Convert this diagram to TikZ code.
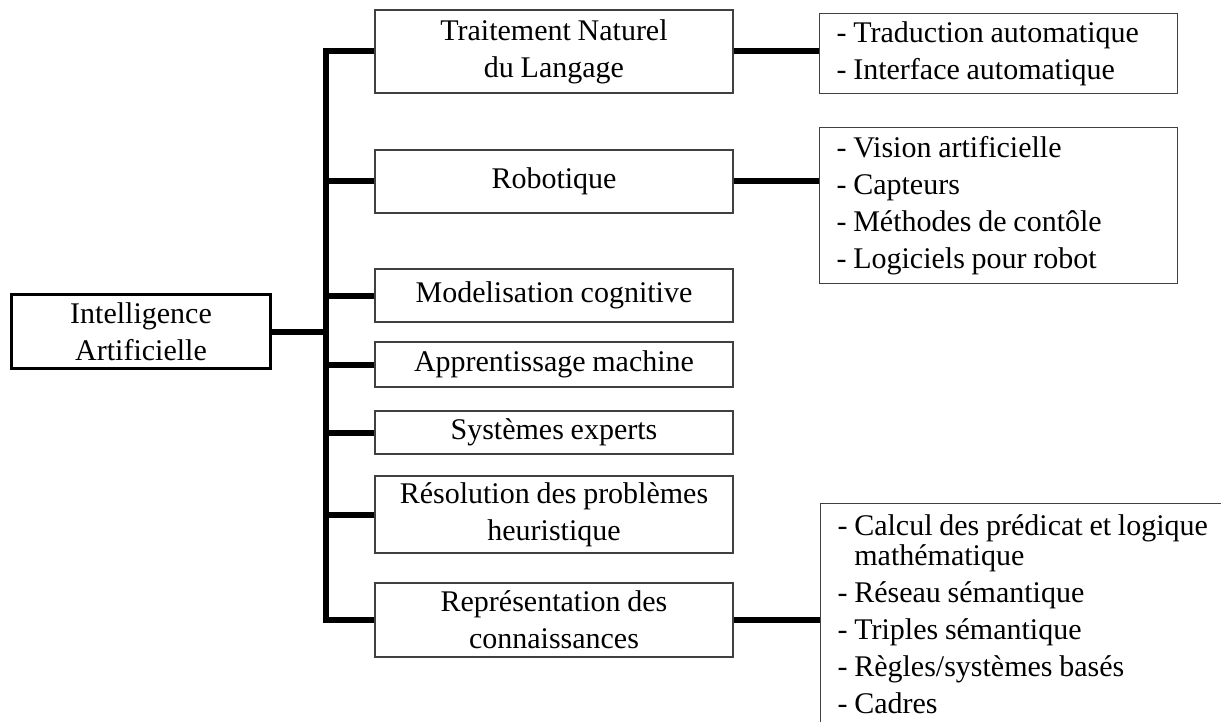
\documentclass[tikz,border=0pt]{standalone}
\usepackage{fontspec}
\setmainfont{Liberation Serif}[WordSpace=0.9]
\usepackage{xcolor}

\begin{document}
\begin{tikzpicture}
	[x=1pt, y=-1pt,
	font=\fontsize{30}{37}\selectfont,
	box/.style = {
		draw=black!75, line width=1.2pt, inner sep=0pt,
		minimum width=358pt, align=center
	},
	rootbox/.style = {
		draw, line width=3pt, inner sep=0pt,
		minimum width=259pt, minimum height=74pt, align=center
	},
	listbox/.style = {
		draw=black!75, line width=1.2pt, inner xsep=17pt, inner ysep=0pt,
		text width=324pt, align=flush left, anchor=north west
	},
	wire/.style = {
		line width=6pt
	}]
	\useasboundingbox (0,0) rectangle (1221,722);
	
	%Draw nodes
	\node[rootbox] at (141,331.5) (ia) {Intelligence\\Artificielle};
	\node[box, minimum height=83pt] at (554,51.5) (tnl) {Traitement Naturel\\ du Langage};
	\node[box, minimum height=63pt] at (554,181.5) (rob) {Robotique};
	\node[box, minimum height=53pt] at (554,295.5) (mod) {Modelisation cognitive};
	\node[box, minimum height=45pt] at (554,364.5) (app) {Apprentissage machine};
	\node[box, minimum height=43pt] at (554,432.5) (sys) {Systèmes experts};
	\node[box, minimum height=77pt] at (554,514.5) (res) {Résolution des problèmes\\heuristique};
	\node[box, minimum height=74pt] at (554,620) (rep) {Représentation des\\connaissances};
	\node[listbox, minimum height=80pt] at (819,13) (ltnl)
		{- Traduction automatique\\- Interface automatique};
	\node[listbox, minimum height=156pt] at (819,127) (lrob)
		{- Vision artificielle\\- Capteurs\\- Méthodes de contôle\\- Logiciels pour robot};
	\node[listbox, inner ysep=11pt, text width=420pt, text depth=260pt] at (820,503) (lrep)
		{- Calcul des prédicat et logique\\[-7pt]
		\phantom{- }mathématique\\- Réseau sémantique\\- Triples sémantique\\
		- Règles/systèmes basés\\- Cadres};
	\coordinate (jtop) at (326,51.5);
	\coordinate (jbot) at (326,620);
	
	%Draw wires
	\draw[wire] (tnl.west) -- (jtop) -- (jbot) -- (rep.west);
	\draw[wire] (ia.east) -- (ia.east -| jtop);
	\draw[wire] (rob.west) -- (rob.west -| jtop);
	\draw[wire] (mod.west) -- (mod.west -| jtop);
	\draw[wire] (app.west) -- (app.west -| jtop);
	\draw[wire] (sys.west) -- (sys.west -| jtop);
	\draw[wire] (res.west) -- (res.west -| jtop);
	\draw[wire] (tnl.east) -- (tnl.east -| ltnl.west);
	\draw[wire] (rob.east) -- (rob.east -| lrob.west);
	\draw[wire] (rep.east) -- (rep.east -| lrep.west);
\end{tikzpicture}
\end{document}
